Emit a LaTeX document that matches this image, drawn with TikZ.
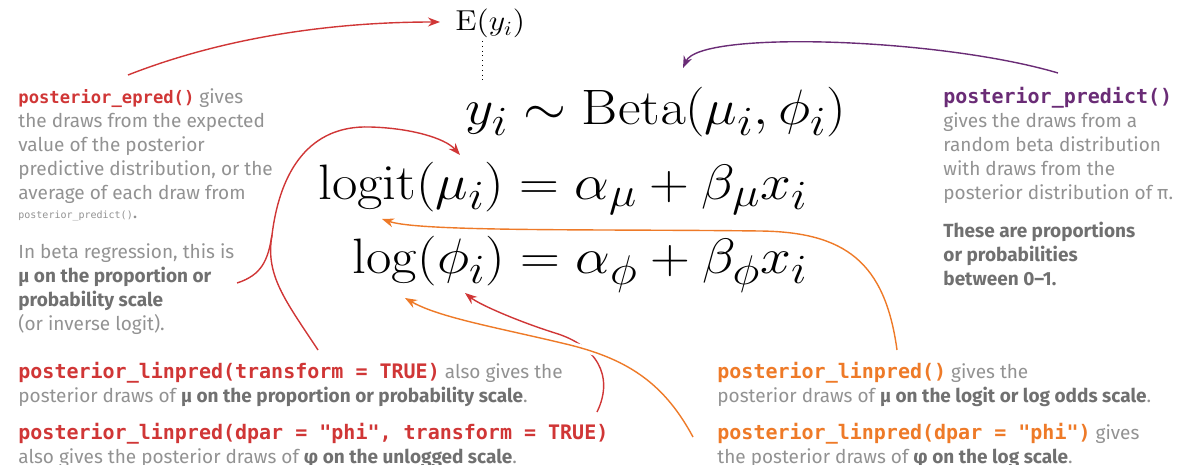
\documentclass[tikz,border=0pt]{standalone}
\usepackage[no-math]{fontspec}
\setmainfont{Fira Sans}
\newfontfamily\codefont{DejaVu Sans Mono}
\usepackage{graphicx}
\usepackage{tikz}
\usetikzlibrary{arrows.meta}

\definecolor{epredred}{RGB}{208,54,54}
\definecolor{linorange}{RGB}{238,122,40}
\definecolor{predpurple}{RGB}{106,44,118}
\definecolor{notegray}{RGB}{146,146,146}
\definecolor{boldgray}{RGB}{112,112,112}

\newcommand{\codecol}[3][10]{{\codefont\bfseries\fontsize{#1}{12}\selectfont\color{#2}#3}}
\newcommand{\hl}[1]{{\bfseries\color{boldgray}#1}}
\newcommand{\wide}[1]{\scalebox{1.11}[1]{$#1$}}

\tikzset{
  eq/.style={anchor=base west,inner sep=0pt,font=\fontsize{28}{28}\selectfont},
  % multi-line notes: anchor sits on the baseline of the last line
  note/.style={anchor=base west,align=left,inner sep=0pt,text=notegray,
    font=\fontsize{9.5}{12}\selectfont},
  link/.style={line width=0.7pt,-{Stealth[length=6pt,width=4.5pt]}},
}

\begin{document}
\begin{tikzpicture}[x=0.5pt,y=-0.5pt]
     \useasboundingbox (0,0) rectangle (1192,465);

     % the model
     \node[eq,font=\fontsize{14}{14}\selectfont] (ey) at (455,31) {\wide{\mathrm{E}(y_i)}};
     \node[eq] (lik) at (465,125) {\wide{y_i \sim \mathrm{Beta}(\mu_i, \phi_i)}};
     \node[eq] (mu) at (318,199) {\wide{\mathrm{logit}(\mu_i) = \alpha_\mu + \beta_\mu x_i}};
     \node[eq] (phi) at (352,273) {\wide{\log(\phi_i) = \alpha_\phi + \beta_\phi x_i}};

     % expected value sits over the mean
     \coordinate (ey-foot) at (482,41);
     \coordinate (lik-top) at (482,82);
     \draw[dotted] (ey-foot) -- (lik-top);

     % notes
     \node[note] (epred) at (18,218) {\codecol[8.6]{epredred}{posterior\_epred()} gives\\
          the draws from the expected\\value of the posterior\\
          predictive distribution, or the\\average of each draw from\\[-2.5pt]
          {\codefont\fontsize{5}{6}\selectfont posterior\_predict()}.};
     \node[note] (betanote) at (18,330) {In beta regression, this is\\
          \hl{μ on the proportion or}\\\hl{probability scale}\\(or inverse logit).};
     \node[note] (predict) at (943,199) {\codecol{predpurple}{posterior\_predict()}\\
          gives the draws from a\\random beta distribution\\
          with draws from the\\posterior distribution of π.};
     \node[note] (propnote) at (943,285) {\hl{These are proportions}\\
          \hl{or probabilities}\\\hl{between 0–1.}};
     \node[note] (lintrans) at (18,402) {\codecol{epredred}{posterior\_linpred(transform = TRUE)} also gives the\\
          posterior draws of \hl{μ on the proportion or probability scale}.};
     \node[note] (lindpartrans) at (18,463) {\codecol{epredred}{posterior\_linpred(dpar = "phi", transform = TRUE)}\\
          also gives the posterior draws of \hl{φ on the unlogged scale}.};
     \node[note] (linpred) at (717,402) {\codecol{linorange}{posterior\_linpred()} gives the\\
          posterior draws of \hl{μ on the logit or log odds scale}.};
     \node[note] (lindpar) at (717,463) {\codecol{linorange}{posterior\_linpred(dpar = "phi")} gives\\
          the posterior draws of \hl{φ on the log scale}.};

     % arrow ends
     \coordinate (epred-tail) at (128,75);
     \coordinate (ey-tip) at (440,22);
     \coordinate (predict-tail) at (1058,73);
     \coordinate (beta-tip) at (683,68);
     \coordinate (lintrans-tail) at (318,350);
     \coordinate (lintrans-bend) at (272,235);
     \coordinate (betanote-tail) at (237,283);
     \coordinate (mu-tip) at (460,155);
     \coordinate (linpred-tail) at (897,350);
     \coordinate (logit-tip) at (382,219);
     \coordinate (lindpar-tail) at (693,437);
     \coordinate (log-tip) at (405,298);
     \coordinate (lindpartrans-tail) at (597,412);
     \coordinate (phi-tip) at (465,293);

     % red
     \draw[link,epredred] (epred-tail) .. controls (230,35) and (340,22) .. (ey-tip);
     \draw[link,epredred] (lintrans-tail) .. controls (285,300) and (265,275) .. (lintrans-bend)
          .. controls (280,170) and (310,125) .. (370,127)
          .. controls (410,128) and (445,138) .. (mu-tip);
     \draw[line width=0.7pt,epredred] (betanote-tail) .. controls (262,275) and (268,260) .. (lintrans-bend);
     \draw[link,epredred] (lindpartrans-tail) .. controls (615,375) and (595,345) .. (555,333)
          .. controls (520,322) and (480,305) .. (phi-tip);

     % purple
     \draw[link,predpurple] (predict-tail) .. controls (940,38) and (700,30) .. (beta-tip);

     % orange
     \draw[link,linorange] (linpred-tail) .. controls (885,262) and (845,232) .. (760,231)
          .. controls (600,229) and (420,232) .. (logit-tip);
     \draw[link,linorange,preaction={draw=white,line width=3.5pt,-}]
          (lindpar-tail) .. controls (665,385) and (630,360) .. (570,345)
          .. controls (500,328) and (440,318) .. (log-tip);
\end{tikzpicture}
\end{document}
